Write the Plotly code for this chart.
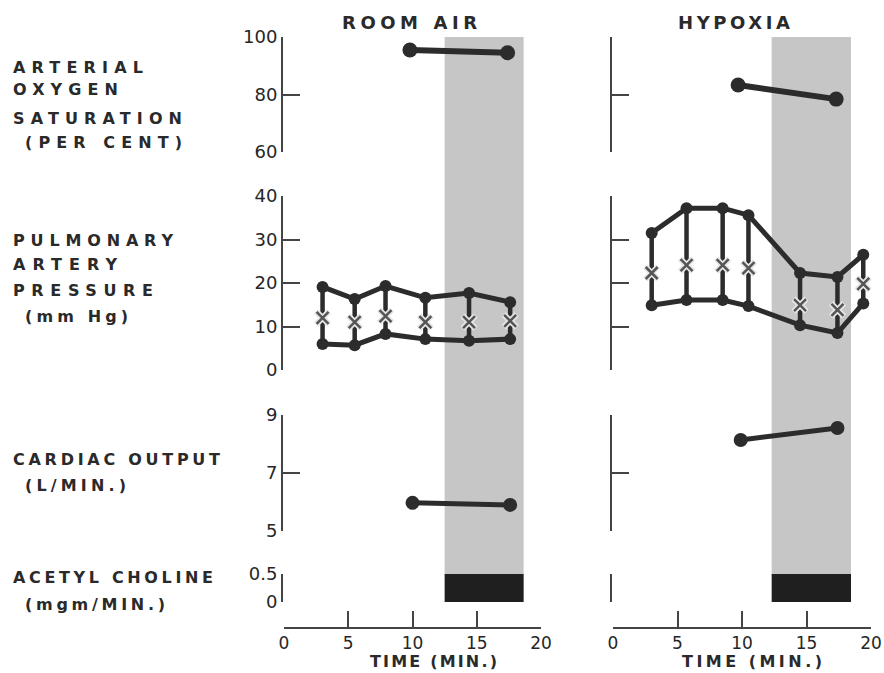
import json
import plotly.graph_objects as go

# ---------------- data ----------------
sat_time_room = [9.8, 17.4]
sat_room = [95.5, 94.5]
sat_time_hyp = [9.7, 17.3]
sat_hyp = [83.3, 78.4]

pap_time_room = [3.0, 5.5, 7.9, 11.0, 14.4, 17.6]
pap_sys_room = [19.1, 16.3, 19.3, 16.6, 17.7, 15.6]
pap_dia_room = [6.0, 5.7, 8.3, 7.1, 6.7, 7.1]
pap_mean_room = [12.0, 11.0, 12.4, 11.0, 11.0, 11.3]

pap_time_hyp = [3.0, 5.7, 8.5, 10.5, 14.5, 17.4, 19.4]
pap_sys_hyp = [31.5, 37.2, 37.2, 35.6, 22.3, 21.4, 26.5]
pap_dia_hyp = [14.9, 16.1, 16.1, 14.7, 10.3, 8.5, 15.3]
pap_mean_hyp = [22.3, 24.1, 24.1, 23.4, 14.9, 13.8, 19.8]

co_time_room = [10.0, 17.6]
co_room = [5.97, 5.9]
co_time_hyp = [9.9, 17.4]
co_hyp = [8.14, 8.55]

ach_room = [12.5, 18.65]   # infusion start / end (min)
ach_hyp = [12.3, 18.45]
ach_dose = 0.5

x_ticks = [0, 5, 10, 15, 20]
sat_ticks = [60, 80, 100]
pap_ticks = [0, 10, 20, 30, 40]
co_ticks = [5, 7, 9]
ach_ticks = [0, 0.5]
ach_ticktext = ["0", "0.5"]

row_labels = [
    ["ARTERIAL", "OXYGEN", "SATURATION", "(PER CENT)"],
    ["PULMONARY", "ARTERY", "PRESSURE", "(mm Hg)"],
    ["CARDIAC OUTPUT", "(L/MIN.)"],
    ["ACETYL CHOLINE", "(mgm/MIN.)"],
]
panel_titles = ["ROOM AIR", "HYPOXIA"]
x_title = "TIME (MIN.)"

# ---------------- style ----------------
W, H = 884, 673
INK = "#2c2c2c"
AXC = "#444444"
SHADE = "#c6c6c6"
BAR = "#1f1f1f"
FONT = "DejaVu Sans"


def fy(py):
    return 1 - py / H


def fx(px):
    return px / W


fig = go.Figure()

xdom = [[fx(284), fx(541)], [fx(613), fx(871)]]
ypos = [fx(282), fx(611)]
ydoms = [
    [fy(152), fy(37)],
    [fy(370), fy(196)],
    [fy(531), fy(415)],
    [fy(602), fy(574)],
]
yranges = [[60, 100], [0, 40], [5, 9], [0, 0.5]]
yticks = [sat_ticks, pap_ticks, co_ticks, ach_ticks]
ytext = [None, None, None, ach_ticktext]

tickfont = dict(family=FONT, size=17, color="#262626")
layout = {}
for p in range(2):
    xname = "xaxis" if p == 0 else "xaxis2"
    layout[xname] = dict(
        domain=xdom[p], range=[0, 20], anchor="free", position=fy(628),
        showline=True, linecolor=AXC, linewidth=2, ticks="inside", ticklen=16,
        tickwidth=2, tickcolor=AXC, tickvals=x_ticks, showgrid=False,
        zeroline=False, tickfont=tickfont, fixedrange=True, automargin=False,
    )
    for r in range(4):
        idx = p * 4 + r + 1
        yname = "yaxis" if idx == 1 else f"yaxis{idx}"
        d = dict(
            domain=ydoms[r], range=yranges[r], anchor="free", position=ypos[p],
            showline=True, linecolor=AXC, linewidth=2, ticks="inside", ticklen=17,
            tickwidth=2, tickcolor=AXC, tickvals=yticks[r], showgrid=False,
            zeroline=False, tickfont=dict(family=FONT, size=18, color="#262626"),
            showticklabels=(p == 0), fixedrange=True, automargin=False,
        )
        if ytext[r] is not None:
            d["ticktext"] = ytext[r]
        layout[yname] = d


def yref(p, r):
    idx = p * 4 + r + 1
    return "y" if idx == 1 else f"y{idx}"


def xref(p):
    return "x" if p == 0 else "x2"


def pair_line(p, r, xs, ys, width, msize):
    fig.add_trace(go.Scatter(
        x=xs, y=ys, mode="lines+markers", xaxis=xref(p), yaxis=yref(p, r),
        line=dict(color=INK, width=width),
        marker=dict(color=INK, size=msize), cliponaxis=False,
        showlegend=False, hoverinfo="skip"))


sat_sets = [(sat_time_room, sat_room), (sat_time_hyp, sat_hyp)]
co_sets = [(co_time_room, co_room), (co_time_hyp, co_hyp)]
pap_sets = [
    (pap_time_room, pap_sys_room, pap_dia_room, pap_mean_room),
    (pap_time_hyp, pap_sys_hyp, pap_dia_hyp, pap_mean_hyp),
]

for p in range(2):
    pair_line(p, 0, sat_sets[p][0], sat_sets[p][1], 6, 15)
    t, s, d, m = pap_sets[p]
    vx, vy = [], []
    for ti, si, di in zip(t, s, d):
        vx += [ti, ti, None]
        vy += [di, si, None]
    fig.add_trace(go.Scatter(
        x=vx, y=vy, mode="lines", xaxis=xref(p), yaxis=yref(p, 1),
        line=dict(color=INK, width=4.5), cliponaxis=False,
        showlegend=False, hoverinfo="skip"))
    pair_line(p, 1, t, s, 5, 12)
    pair_line(p, 1, t, d, 5, 12)
    fig.add_trace(go.Scatter(
        x=t, y=m, mode="markers", xaxis=xref(p), yaxis=yref(p, 1),
        marker=dict(symbol="x-thin", size=13, line=dict(color="#e6e6e6", width=6)),
        cliponaxis=False, showlegend=False, hoverinfo="skip"))
    fig.add_trace(go.Scatter(
        x=t, y=m, mode="markers", xaxis=xref(p), yaxis=yref(p, 1),
        marker=dict(symbol="x-thin", size=12, line=dict(color="#555", width=2.5)),
        cliponaxis=False, showlegend=False, hoverinfo="skip"))
    pair_line(p, 2, co_sets[p][0], co_sets[p][1], 5, 14)

shapes = []
for p, (a0, a1) in enumerate([ach_room, ach_hyp]):
    shapes.append(dict(type="rect", xref=xref(p), yref="paper", x0=a0, x1=a1,
                       y0=fy(575), y1=fy(37), fillcolor=SHADE,
                       line=dict(width=0), layer="below"))
    shapes.append(dict(type="rect", xref=xref(p), yref=yref(p, 3), x0=a0, x1=a1,
                       y0=0, y1=ach_dose, fillcolor=BAR,
                       line=dict(width=0), layer="above"))

annotations = []
targets = {}
label_font = dict(family=FONT, size=16, color="#2a2a2a", weight="bold")
label_pos = [
    [(13, 68, 130), (13, 90, 105), (13, 118, 169), (25, 142, 157)],
    [(13, 240, 160), (13, 265, 104), (13, 290, 140), (25, 316, 103)],
    [(13, 459, 207), (25, 485, 101)],
    [(13, 577, 200), (25, 604, 140)],
]
for lines, poss in zip(row_labels, label_pos):
    for txt, (lx, ly, tw) in zip(lines, poss):
        targets[len(annotations)] = tw
        annotations.append(dict(
            text=txt, x=fx(lx - 2), y=fy(ly), xref="paper", yref="paper",
            xanchor="left", yanchor="middle", align="left", showarrow=False,
            font=label_font))

title_font = dict(family=FONT, size=18, color="#2a2a2a", weight="bold")
for txt, (lx, ly, tw) in zip(panel_titles, [(342, 23, 135), (678, 23, 112)]):
    targets[len(annotations)] = tw
    annotations.append(dict(
        text=txt, x=fx(lx - 2), y=fy(ly), xref="paper", yref="paper",
        xanchor="left", yanchor="middle", align="left", showarrow=False,
        font=title_font))
for lx, tw in [(370, 127), (682, 140)]:
    targets[len(annotations)] = tw
    annotations.append(dict(
        text=x_title, x=fx(lx - 1), y=fy(672), xref="paper", yref="paper",
        xanchor="left", yanchor="bottom", align="left", showarrow=False,
        borderpad=0,
        font=dict(family=FONT, size=16, color="#2a2a2a", weight="bold")))

fig.update_layout(
    width=W, height=H, autosize=False,
    margin=dict(l=0, r=0, t=0, b=0, pad=0, autoexpand=False),
    paper_bgcolor="white", plot_bgcolor="white",
    showlegend=False, shapes=shapes, annotations=annotations,
    **layout,
)

js = (
    "document.body.style.margin='0';document.body.style.overflow='hidden';"
    "var gd=document.getElementById('{plot_id}');"
    "var targets=" + json.dumps(targets) + ";"
    "Object.keys(targets).forEach(function(i){"
    "var t=gd.querySelector('.annotation[data-index=\"'+i+'\"] text.annotation-text');"
    "if(!t)return;t.style.letterSpacing='0px';"
    "var n=t.textContent.length;var w=t.getComputedTextLength();"
    "var ls=(targets[i]-w)/Math.max(n-1,1);"
    "t.style.letterSpacing=ls+'px';});"
)

fig.write_html("out.html", post_script=js, config={"displayModeBar": False})
